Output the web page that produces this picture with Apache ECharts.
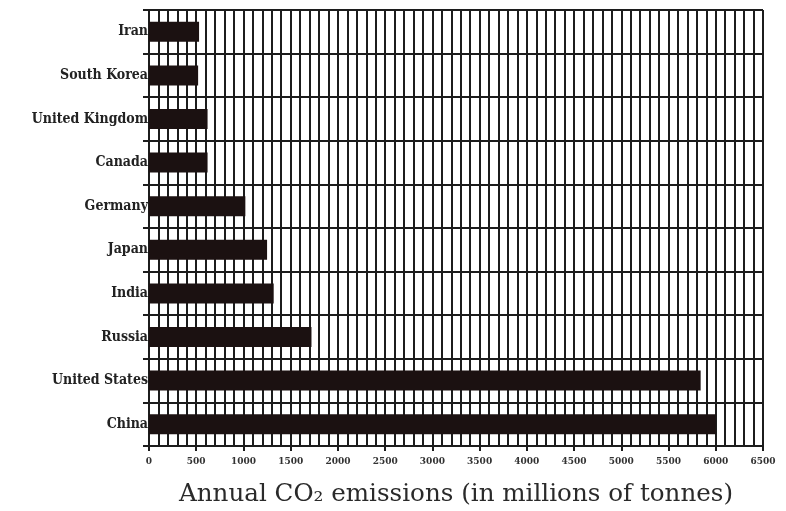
<!DOCTYPE html>
<html>
<head>
<meta charset="utf-8">
<script src="https://cdn.jsdelivr.net/npm/echarts@6/dist/echarts.min.js"></script>
<style>
html,body{margin:0;padding:0;background:#fff;}
#chart{width:786px;height:511px;}
</style>
</head>
<body>
<div id="chart"></div>
<script>
// Categories listed bottom-to-top
var countries = ['China', 'United States', 'Russia', 'India', 'Japan', 'Germany', 'Canada', 'United Kingdom', 'South Korea', 'Iran'];
var emissions = [6000, 5840, 1720, 1320, 1250, 1020, 620, 620, 520, 530];
var xTicks = [0, 500, 1000, 1500, 2000, 2500, 3000, 3500, 4000, 4500, 5000, 5500, 6000, 6500];
var axisTitle = 'Annual CO\u2082 emissions (in millions of tonnes)';

var lineColor = '#1c1c1c';
var chart = echarts.init(document.getElementById('chart'), null, {renderer: 'canvas'});
chart.setOption({
  backgroundColor: '#ffffff',
  animation: false,
  grid: {left: 149, right: 23, top: 10, bottom: 65, containLabel: false, outerBoundsMode: 'none'},
  xAxis: {
    type: 'value',
    min: xTicks[0],
    max: xTicks[xTicks.length - 1],
    interval: 500,
    name: axisTitle,
    nameLocation: 'middle',
    nameGap: 36,
    nameTextStyle: {fontFamily: 'DejaVu Serif', fontSize: 24.6, color: '#2a2a2a'},
    axisLine: {show: true, lineStyle: {color: lineColor, width: 2}},
    axisTick: {show: true, length: 5, lineStyle: {color: lineColor, width: 2}},
    axisLabel: {
      fontFamily: 'DejaVu Serif Condensed', fontWeight: 'bold', fontSize: 10, color: '#333', margin: 10,
      formatter: function (v) { return String(v); }
    },
    splitLine: {show: true, lineStyle: {color: lineColor, width: 2}},
    minorTick: {show: false, splitNumber: 5},
    minorSplitLine: {show: true, lineStyle: {color: lineColor, width: 2}}
  },
  yAxis: {
    type: 'category',
    data: countries,
    axisLine: {show: true, lineStyle: {color: lineColor, width: 2}},
    axisTick: {show: true, length: 6, lineStyle: {color: lineColor, width: 2}},
    axisLabel: {fontFamily: 'DejaVu Serif Condensed', fontWeight: 'bold', fontSize: 14, color: '#222', margin: 1},
    splitLine: {show: true, interval: 0, lineStyle: {color: lineColor, width: 2}}
  },
  series: [{
    type: 'bar',
    data: emissions,
    barWidth: 20,
    itemStyle: {color: '#1b1111'}
  }]
});
</script>
</body>
</html>
